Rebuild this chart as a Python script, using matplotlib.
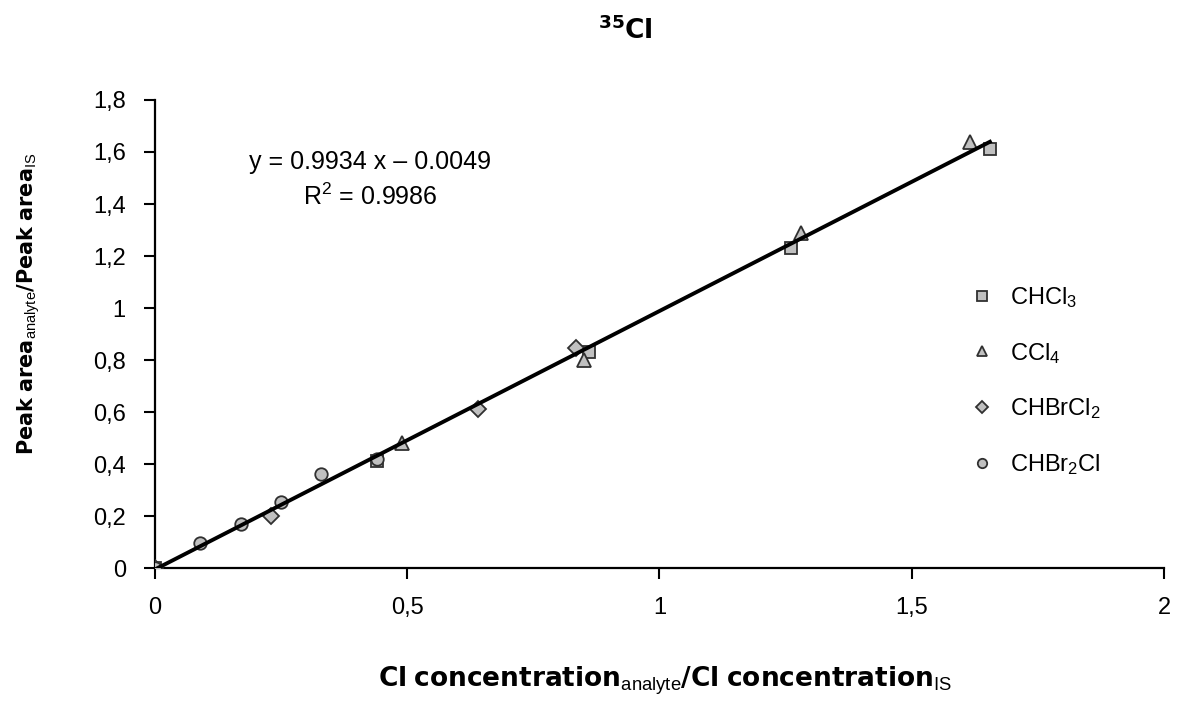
import matplotlib
matplotlib.use("Agg")
import matplotlib.pyplot as plt
import numpy as np

plt.rcParams['font.family'] = ['Liberation Sans', 'DejaVu Sans']
plt.rcParams['mathtext.fontset'] = 'custom'
plt.rcParams['mathtext.rm'] = 'Liberation Sans'
plt.rcParams['mathtext.it'] = 'Liberation Sans:italic'
plt.rcParams['mathtext.bf'] = 'DejaVu Sans:bold'

# data
chcl3_x = [0, 0.44, 0.86, 1.26, 1.655]
chcl3_y = [0, 0.41, 0.83, 1.23, 1.61]
ccl4_x = [0, 0.49, 0.85, 1.28, 1.615]
ccl4_y = [0, 0.48, 0.80, 1.29, 1.64]
chbrcl2_x = [0, 0.23, 0.64, 0.835]
chbrcl2_y = [0, 0.20, 0.61, 0.845]
chbr2cl_x = [0, 0.09, 0.17, 0.25, 0.33, 0.44]
chbr2cl_y = [0, 0.095, 0.17, 0.255, 0.36, 0.42]

slope = 0.9934
intercept = -0.0049
fit_x = [0, 1.655]

xticks = [0, 0.5, 1, 1.5, 2]
xtick_labels = ["0", "0,5", "1", "1,5", "2"]
yticks = [0, 0.2, 0.4, 0.6, 0.8, 1.0, 1.2, 1.4, 1.6, 1.8]
ytick_labels = ["0", "0,2", "0,4", "0,6", "0,8", "1", "1,2", "1,4", "1,6", "1,8"]

fig = plt.figure(figsize=(11.86, 7.04), dpi=100)
ax = fig.add_axes([0.1307, 0.193, 0.8507, 0.665])

face = '#c0c0c0'
edge = '#303030'
ax.plot(chcl3_x, chcl3_y, 's', ms=9, mfc=face, mec=edge, mew=1.3, ls='none', label='CHCl$_3$', zorder=3)
ax.plot(ccl4_x, ccl4_y, '^', ms=10, mfc=face, mec=edge, mew=1.3, ls='none', label='CCl$_4$', zorder=3)
ax.plot(chbrcl2_x, chbrcl2_y, 'D', ms=8, mfc=face, mec=edge, mew=1.3, ls='none', label='CHBrCl$_2$', zorder=3)
ax.plot(chbr2cl_x, chbr2cl_y, 'o', ms=9, mfc=face, mec=edge, mew=1.3, ls='none', label='CHBr$_2$Cl', zorder=3)

fx = np.array(fit_x)
ax.plot(fx, slope * fx + intercept, color='black', lw=2.8, zorder=4)

ax.set_xlim(0, 2)
ax.set_ylim(0, 1.8)
ax.set_xticks(xticks)
ax.set_xticklabels(xtick_labels)
ax.set_yticks(yticks)
ax.set_yticklabels(ytick_labels)
ax.tick_params(direction='out', length=8, width=1.5, labelsize=17, pad=13, colors='black')
for s in ['top', 'right']:
    ax.spines[s].set_visible(False)
for s in ['left', 'bottom']:
    ax.spines[s].set_linewidth(1.6)

ax.text(0.427, 1.56, 'y = 0.9934 x \u2013 0.0049', ha='center', va='center', fontsize=18)
ax.text(0.427, 1.428, 'R$^2$ = 0.9986', ha='center', va='center', fontsize=18)

ax.legend(loc='upper left', bbox_to_anchor=(0.785, 0.65), frameon=False,
          fontsize=17, labelspacing=1.3, handletextpad=0.55, handlelength=1.2,
          markerscale=0.75)

# axis titles placed as figure text
fig.text(0.5607, 0.0241,
         r'$\mathbf{Cl\ concentration}_{\mathrm{analyte}}\mathbf{/Cl\ concentration}_{\mathrm{IS}}$',
         ha='center', va='baseline', fontsize=19)
fig.text(0.0245, 0.568,
         r'$\mathbf{Peak\ area}_{\mathrm{analyte}}\mathbf{/Peak\ area}_{\mathrm{IS}}$',
         ha='center', va='center', rotation=90, fontsize=15)

fig.text(0.527, 0.957, r'$^{\mathbf{35}}\mathbf{Cl}$', ha='center', va='center', fontsize=19)

fig.savefig('out.png', dpi=100)
